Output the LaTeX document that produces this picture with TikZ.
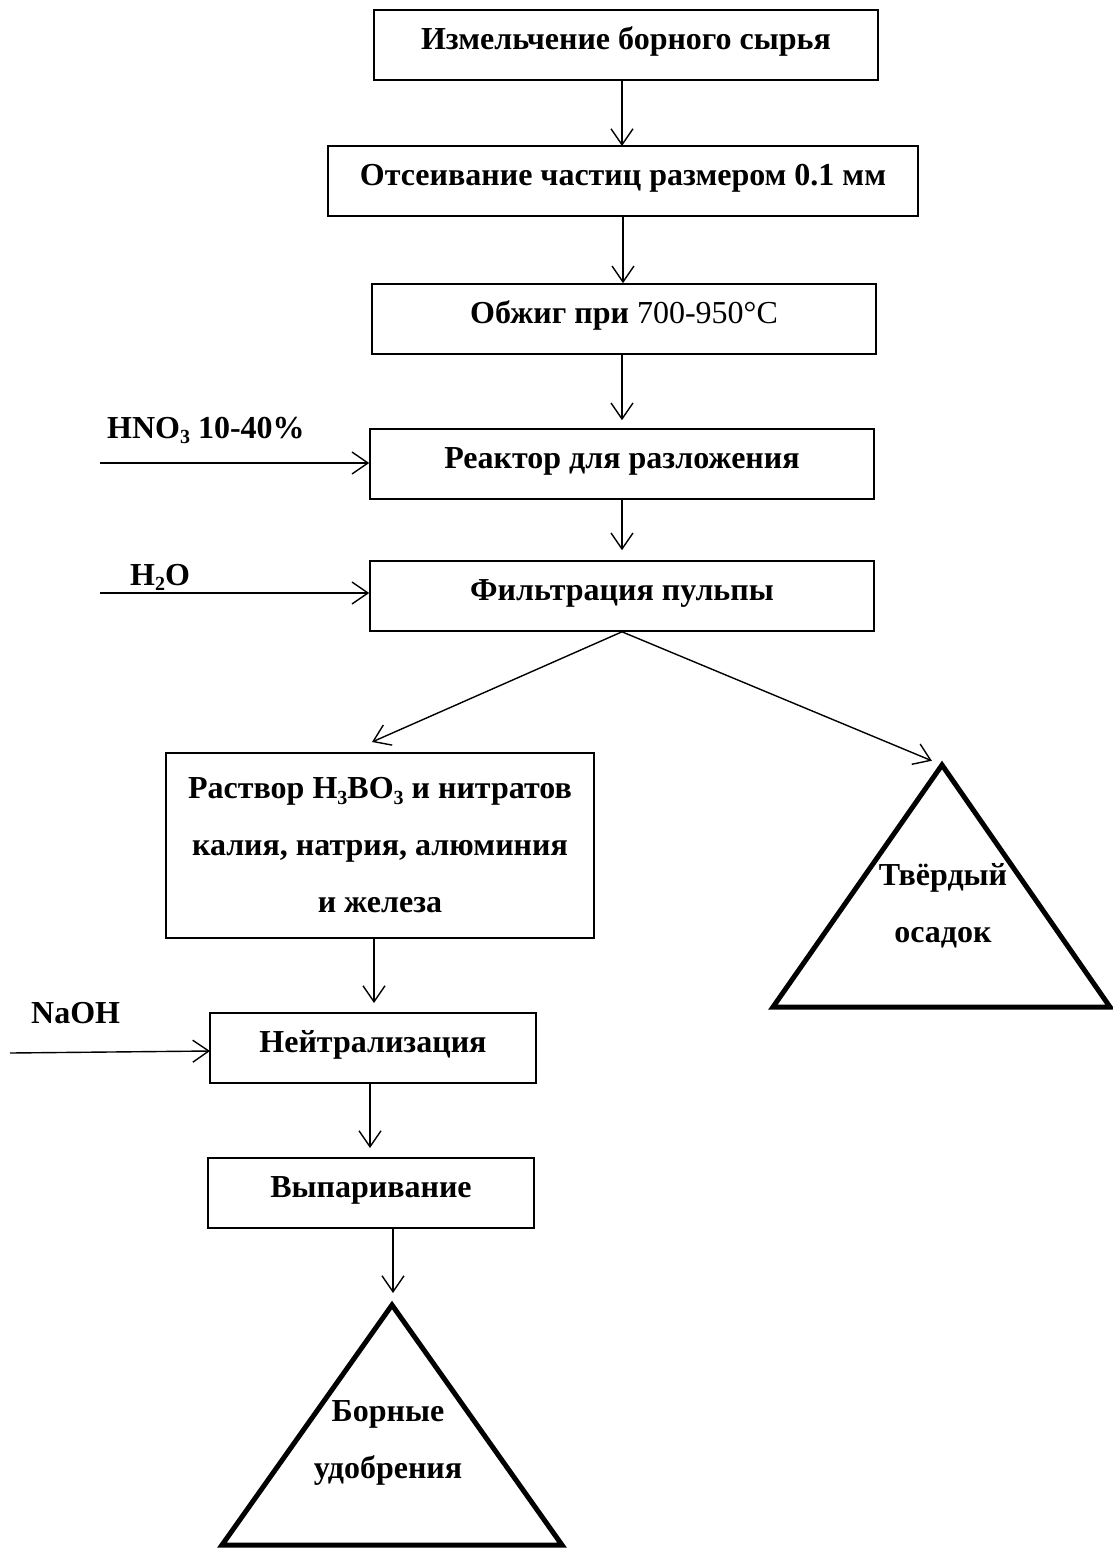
\documentclass[tikz,border=0pt]{standalone}
\usepackage{fontspec}
\setmainfont{Liberation Serif}
\usetikzlibrary{arrows.meta}
\newcommand{\chemsub}[1]{\raisebox{-0.18em}{\fontsize{20}{20}\selectfont #1}}
\begin{document}
\begin{tikzpicture}[x=1pt,y=-1pt,
  txtfont/.style={font=\fontsize{32}{57}\selectfont\bfseries},
  box/.style={draw, line width=1.6pt, inner sep=0pt, txtfont, text height=22pt, text depth=14pt, minimum height=70pt},
  bigbox/.style={draw, line width=1.6pt, inner sep=0pt, txtfont, align=center},
  arr/.style={line width=1.4pt, -{Straight Barb[length=16pt,width=22pt]}},
  tri/.style={line width=5pt, line join=miter},
  lbl/.style={txtfont, inner sep=0pt, anchor=base west},
  tritext/.style={txtfont, inner sep=0pt, align=center}]
\useasboundingbox (0,0) rectangle (1112,1548);

% process boxes
\node[box, minimum width=504pt] (b1) at (626,45) {Измельчение борного сырья};
\node[box, minimum width=590pt] (b2) at (623,181) {Отсеивание частиц размером 0.1 мм};
\node[box, minimum width=504pt] (b3) at (624,319) {Обжиг при {\mdseries 700-950°C}};
\node[box, minimum width=504pt] (b4) at (622,464) {Реактор для разложения};
\node[box, minimum width=504pt] (b5) at (622,596) {Фильтрация пульпы};
\node[bigbox, minimum width=428pt, minimum height=185pt] (b6) at (380,845.5)
  {Раствор H\chemsub{3}BO\chemsub{3} и нитратов\\калия, натрия, алюминия\\и железа};
\node[box, minimum width=326pt] (b7) at (373,1048) {Нейтрализация};
\node[box, minimum width=326pt] (b8) at (371,1193) {Выпаривание};

% product triangles
\coordinate (t1a) at (942,765);
\coordinate (t1l) at (773,1007);
\coordinate (t1r) at (1110,1007);
\draw[tri] (t1a) -- (t1l) -- (t1r) -- cycle;
\node[tritext] (t1) at (943,906) {Твёрдый\\осадок};

\coordinate (t2a) at (392,1305);
\coordinate (t2l) at (222,1545);
\coordinate (t2r) at (562,1545);
\draw[tri] (t2a) -- (t2l) -- (t2r) -- cycle;
\node[tritext] (t2) at (388,1443) {Борные\\удобрения};

% input labels
\node[lbl] (lhno) at (107,438) {HNO\chemsub{3} 10-40\%};
\node[lbl] (lh2o) at (130,585) {H\chemsub{2}O};
\node[lbl] (lnaoh) at (31,1023) {NaOH};
\coordinate (inhno) at (100,463);
\coordinate (inh2o) at (100,593);
\coordinate (innaoh) at (10,1053);

% connectors
\draw[arr] (622,80) -- (622,146);
\draw[arr] (b2.south) -- (b2.south |- b3.north);
\draw[arr, shorten >=8pt] (b3.south -| b4.north) -- (b4.north);
\draw[arr, shorten >=10pt] (b4.south) -- (b5.north);
\draw[arr] (inhno) -- (inhno -| b4.west);
\draw[arr] (inh2o) -- (inh2o -| b5.west);
\coordinate (e6) at (372,742);
\draw[arr] (b5.south) -- (e6);
\draw[arr, shorten >=11pt] (b5.south) -- (t1a);
\draw[arr, shorten >=10pt] (374,938) -- (374,1013);
\draw[arr] (innaoh) -- (210,1051);
\draw[arr, shorten >=10pt] (b7.south -| 370,0) -- (370,1158);
\draw[arr, shorten >=12pt] (393,1228) -- (t2a -| 393,0);
\end{tikzpicture}
\end{document}
